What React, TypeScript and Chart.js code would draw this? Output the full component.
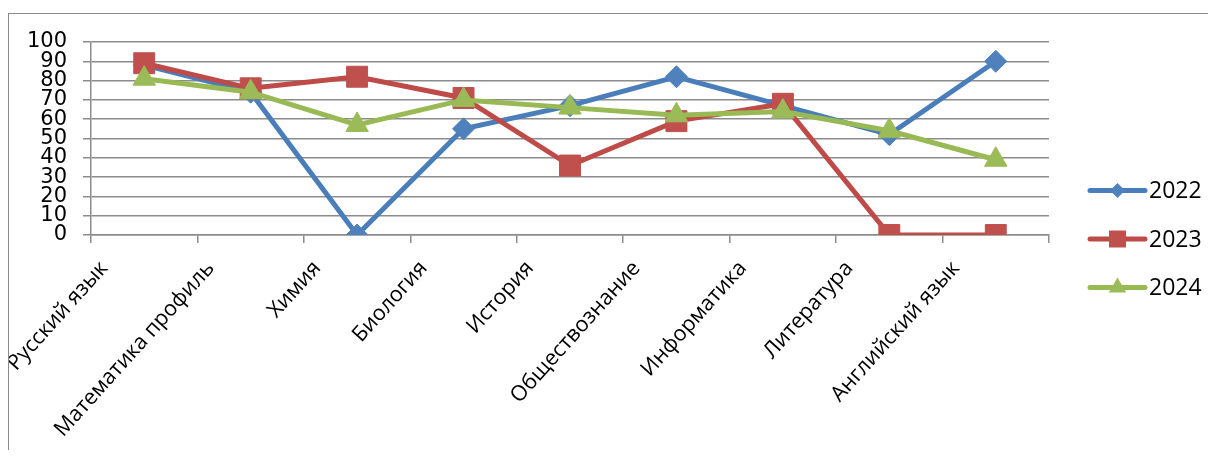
import React, { useEffect, useRef } from 'react';
import { Chart, registerables } from 'chart.js';

Chart.register(...registerables);

const categories = [
  'Русский язык',
  'Математика профиль',
  'Химия',
  'Биология',
  'История',
  'Обществознание',
  'Информатика',
  'Литература',
  'Английский язык',
];
const seriesNames = ['2022', '2023', '2024'];
const values2022 = [88, 74, 0, 55, 67, 82, 67, 52, 90];
const values2023 = [89, 76, 82, 71, 36, 59, 68, 0, 0];
const values2024 = [81, 74, 57, 70, 66, 62, 64, 54, 39];
const yMin = 0;
const yMax = 100;
const yStep = 10;

const lineColors = ['#4A7EBB', '#BE4B48', '#98B954'];
const markerColors = ['#4F81BD', '#C0504D', '#9BBB59'];
const pointStyles = ['rectRot', 'rect', 'triangle'];
const pointRadii = [11, 14.8, 13];
const legendRadii = [7.5, 12, 10];

const GRID = '#8c8c8c';

function drawMarker(ctx: CanvasRenderingContext2D, style: string, r: number, x: number, y: number) {
  ctx.beginPath();
  if (style === 'rectRot') {
    ctx.moveTo(x, y - r);
    ctx.lineTo(x + r, y);
    ctx.lineTo(x, y + r);
    ctx.lineTo(x - r, y);
  } else if (style === 'rect') {
    const h = r * Math.SQRT1_2;
    ctx.rect(x - h, y - h, 2 * h, 2 * h);
  } else {
    const a = (2 * Math.PI) / 3;
    for (let k = 0; k < 3; k++) {
      const ang = -Math.PI / 2 + k * a;
      const px = x + Math.cos(ang) * r;
      const py = y + Math.sin(ang) * r;
      if (k === 0) ctx.moveTo(px, py);
      else ctx.lineTo(px, py);
    }
  }
  ctx.closePath();
  ctx.fill();
}

const legendPlugin = {
  id: 'excelLegend',
  afterDraw(chart: any) {
    const ctx = chart.ctx as CanvasRenderingContext2D;
    const area = chart.chartArea;
    const x0 = area.right + 41;
    const x1 = area.right + 96;
    const cy = area.bottom + 4;
    const gap = 48.5;
    chart.data.datasets.forEach((ds: any, i: number) => {
      const y = cy + (i - 1) * gap;
      ctx.save();
      ctx.strokeStyle = ds.borderColor;
      ctx.lineWidth = 5;
      ctx.lineCap = 'round';
      ctx.beginPath();
      ctx.moveTo(x0, y);
      ctx.lineTo(x1, y);
      ctx.stroke();
      ctx.fillStyle = ds.pointBackgroundColor;
      drawMarker(ctx, ds.pointStyle, legendRadii[i], (x0 + x1) / 2, y);
      ctx.fillStyle = '#000';
      ctx.font = '23px "Open Sans"';
      ctx.textBaseline = 'middle';
      ctx.textAlign = 'left';
      ctx.fillText(ds.label, x1 + 4, y + 1);
      ctx.restore();
    });
  },
};

export default function App() {
  const ref = useRef<HTMLCanvasElement | null>(null);

  useEffect(() => {
    if (!ref.current) return;
    const series = [values2022, values2023, values2024];
    const chart = new Chart(ref.current, {
      type: 'line',
      data: {
        labels: categories,
        datasets: series.map((vals, i) => ({
          label: seriesNames[i],
          data: vals,
          borderColor: lineColors[i],
          backgroundColor: markerColors[i],
          pointBackgroundColor: markerColors[i],
          pointBorderColor: markerColors[i],
          pointStyle: pointStyles[i] as any,
          pointRadius: pointRadii[i],
          pointBorderWidth: 1,
          borderWidth: 5,
          tension: 0,
          fill: false,
          order: 3 - i,
        })),
      },
      options: {
        animation: false,
        responsive: false,
        maintainAspectRatio: false,
        layout: { padding: { left: 0, right: 167, top: 28, bottom: 0 } },
        plugins: {
          legend: { display: false },
          tooltip: { enabled: false },
        },
        scales: {
          x: {
            type: 'category',
            offset: true,
            grid: {
              display: true,
              offset: true,
              drawOnChartArea: false,
              drawTicks: true,
              tickLength: 8,
              color: GRID,
              lineWidth: 1.5,
            },
            border: { display: true, color: GRID, width: 1.5 },
            ticks: {
              autoSkip: false,
              maxRotation: 48,
              minRotation: 48,
              labelOffset: -40,
              padding: 13,
              color: '#000',
              font: { family: '"Open Sans"', size: 21.5 },
            },
            afterFit(scale: any) {
              scale.height = 215;
            },
          },
          y: {
            min: yMin,
            max: yMax,
            ticks: {
              stepSize: yStep,
              autoSkip: false,
              padding: 16,
              color: '#000',
              font: { family: '"DejaVu Sans"', size: 21, lineHeight: 1 },
            },
            grid: {
              color: GRID,
              lineWidth: 1.5,
              drawTicks: true,
              tickLength: 8,
            },
            border: { display: true, color: GRID, width: 1.5 },
            afterFit(scale: any) {
              scale.width = 82;
            },
          },
        },
      },
      plugins: [legendPlugin],
    });
    return () => chart.destroy();
  }, []);

  return (
    <div style={{ position: 'relative', width: 1208, height: 442, overflow: 'hidden' }}>
      <div
        style={{
          position: 'absolute',
          left: 0,
          top: 5,
          width: 1240,
          height: 480,
          border: '1px solid #8a8a8a',
          boxSizing: 'border-box',
        }}
      >
        <canvas ref={ref} width={1207} height={436} style={{ display: 'block', width: 1207, height: 436 }} />
      </div>
    </div>
  );
}
